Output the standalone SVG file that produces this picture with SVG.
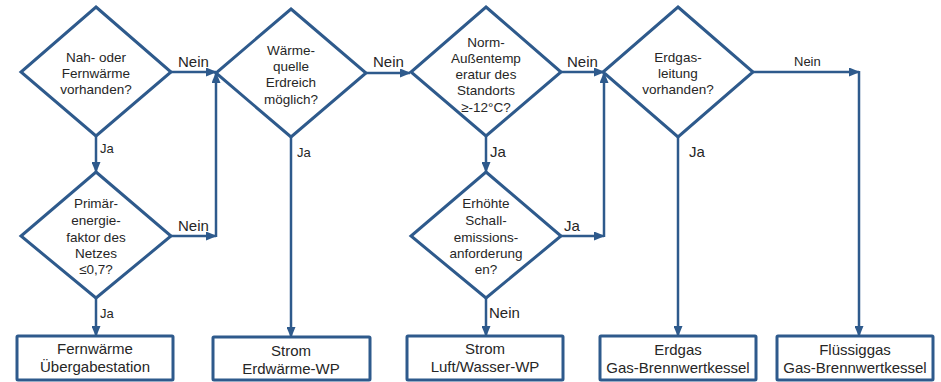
<svg xmlns="http://www.w3.org/2000/svg" width="941" height="382" viewBox="0 0 941 382">
<style>
.shape{fill:#fff;stroke:#2E5A8C;stroke-width:3;stroke-linejoin:miter}
.box{fill:#fff;stroke:#2E5A8C;stroke-width:3}
.line{fill:none;stroke:#2E5A8C;stroke-width:2.5}
.t{font-family:"Liberation Sans",Arial,sans-serif;font-size:13.5px;fill:#262626;text-anchor:middle}
.bt{font-family:"Liberation Sans",Arial,sans-serif;font-size:15px;fill:#262626;text-anchor:middle}
.lbl{font-family:"Liberation Sans",Arial,sans-serif;font-size:15px;fill:#262626}
.lbs{font-family:"Liberation Sans",Arial,sans-serif;font-size:13px;fill:#262626}
</style>
<defs>
<marker id="ah" markerUnits="userSpaceOnUse" markerWidth="11" markerHeight="9" refX="10" refY="4.5" orient="auto">
<path d="M0,0 L11,4.5 L0,9 z" fill="#2E5A8C"/>
</marker>
</defs>
<rect width="941" height="382" fill="#fff"/>
<g id="connectors">
<path class="line" d="M96,136 V172" marker-end="url(#ah)"/>
<path class="line" d="M96,298 V336" marker-end="url(#ah)"/>
<path class="line" d="M170,72 H216" marker-end="url(#ah)"/>
<path class="line" d="M170,236 H216" marker-end="url(#ah)"/>
<path class="line" d="M216,237 V73" marker-end="url(#ah)"/>
<path class="line" d="M291,137 V337" marker-end="url(#ah)"/>
<path class="line" d="M366,73 H410" marker-end="url(#ah)"/>
<path class="line" d="M486,136 V172" marker-end="url(#ah)"/>
<path class="line" d="M486,298 V336" marker-end="url(#ah)"/>
<path class="line" d="M560,72 H604" marker-end="url(#ah)"/>
<path class="line" d="M560,236 H604" marker-end="url(#ah)"/>
<path class="line" d="M604,237 V73" marker-end="url(#ah)"/>
<path class="line" d="M678,137 V336" marker-end="url(#ah)"/>
<path class="line" d="M753,72 H859" marker-end="url(#ah)"/>
<path class="line" d="M859,71 V336" marker-end="url(#ah)"/>
<text class="lbl" x="178" y="67">Nein</text>
<text class="lbs" x="100" y="153">Ja</text>
<text class="lbl" x="178" y="231">Nein</text>
<text class="lbs" x="100" y="318">Ja</text>
<text class="lbl" x="373" y="67">Nein</text>
<text class="lbs" x="297" y="157">Ja</text>
<text class="lbl" x="567" y="67">Nein</text>
<text class="lbl" x="490" y="157">Ja</text>
<text class="lbl" x="564" y="231">Ja</text>
<text class="lbl" x="489" y="318">Nein</text>
<text class="lbs" x="794" y="66">Nein</text>
<text class="lbl" x="689" y="157">Ja</text>
</g>
<g id="d1">
<polygon class="shape" points="96,7 171,72 96,136 21,72"/>
<text class="t" x="96" y="62">Nah- oder</text>
<text class="t" x="96" y="78">Fernwärme</text>
<text class="t" x="96" y="94">vorhanden?</text>
</g>
<g id="d2">
<polygon class="shape" points="96,172 171,236 96,298 21,236"/>
<text class="t" x="96" y="208">Primär-</text>
<text class="t" x="96" y="225">energie-</text>
<text class="t" x="96" y="242">faktor des</text>
<text class="t" x="96" y="258">Netzes</text>
<text class="t" x="96" y="274">≤0,7?</text>
</g>
<g id="d3">
<polygon class="shape" points="291,9 366,73 291,137 216,73"/>
<text class="t" x="291" y="55">Wärme-</text>
<text class="t" x="291" y="71">quelle</text>
<text class="t" x="291" y="87">Erdreich</text>
<text class="t" x="291" y="104">möglich?</text>
</g>
<g id="d4">
<polygon class="shape" points="486,7 561,72 486,136 411,72"/>
<text class="t" x="486" y="47">Norm-</text>
<text class="t" x="486" y="63">Außentemp</text>
<text class="t" x="486" y="79">eratur des</text>
<text class="t" x="486" y="95">Standorts</text>
<text class="t" x="486" y="112">≥-12°C?</text>
</g>
<g id="d5">
<polygon class="shape" points="486,172 561,236 486,298 411,236"/>
<text class="t" x="486" y="208">Erhöhte</text>
<text class="t" x="486" y="225">Schall-</text>
<text class="t" x="486" y="242">emissions-</text>
<text class="t" x="486" y="258">anforderung</text>
<text class="t" x="486" y="274">en?</text>
</g>
<g id="d6">
<polygon class="shape" points="678,7 753,72 678,137 603,72"/>
<text class="t" x="678" y="62">Erdgas-</text>
<text class="t" x="678" y="78">leitung</text>
<text class="t" x="678" y="94">vorhanden?</text>
</g>
<g id="b1">
<rect class="box" x="17" y="336" width="156" height="44" rx="1"/>
<text class="bt" x="95" y="354">Fernwärme</text>
<text class="bt" x="95" y="372">Übergabestation</text>
</g>
<g id="b2">
<rect class="box" x="213" y="337" width="157" height="43" rx="1"/>
<text class="bt" x="291" y="356">Strom</text>
<text class="bt" x="291" y="374">Erdwärme-WP</text>
</g>
<g id="b3">
<rect class="box" x="407" y="336" width="156" height="44" rx="1"/>
<text class="bt" x="485" y="354">Strom</text>
<text class="bt" x="485" y="372">Luft/Wasser-WP</text>
</g>
<g id="b4">
<rect class="box" x="600" y="336" width="156" height="44" rx="1"/>
<text class="bt" x="678" y="355">Erdgas</text>
<text class="bt" x="678" y="373">Gas-Brennwertkessel</text>
</g>
<g id="b5">
<rect class="box" x="777" y="336" width="156" height="44" rx="1"/>
<text class="bt" x="855" y="355">Flüssiggas</text>
<text class="bt" x="855" y="373">Gas-Brennwertkessel</text>
</g>
</svg>
